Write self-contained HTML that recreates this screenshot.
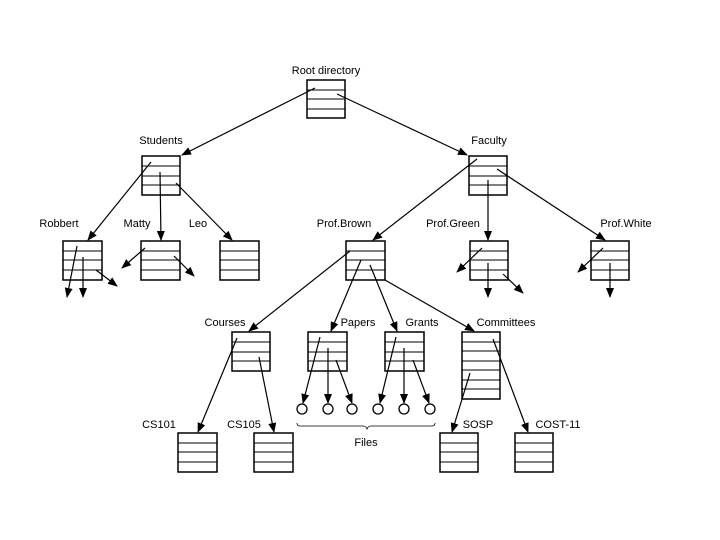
<!DOCTYPE html>
<html><head><style>body{margin:0;background:#fff}svg{display:block}</style></head><body>
<svg width="720" height="540" viewBox="0 0 720 540" xmlns="http://www.w3.org/2000/svg" font-family="Liberation Sans, sans-serif" font-size="11">
<defs><marker id="a" markerWidth="10" markerHeight="8" refX="9" refY="4" orient="auto" markerUnits="userSpaceOnUse"><path d="M0,0L10,4L0,8z" fill="#000"/></marker></defs>
<g fill="#fff" stroke="#000" stroke-width="1.5">
<rect x="307" y="80" width="38" height="38"/>
<rect x="142" y="156" width="38" height="39"/>
<rect x="469" y="156" width="38" height="39"/>
<rect x="63" y="241" width="39" height="39"/>
<rect x="141" y="241" width="39" height="39"/>
<rect x="220" y="241" width="39" height="39"/>
<rect x="346" y="241" width="39" height="39"/>
<rect x="470" y="241" width="38" height="39"/>
<rect x="591" y="241" width="38" height="39"/>
<rect x="232" y="332" width="38" height="39"/>
<rect x="308" y="332" width="39" height="39"/>
<rect x="385" y="332" width="39" height="39"/>
<rect x="462" y="332" width="38" height="67"/>
<rect x="178" y="433" width="39" height="39"/>
<rect x="254" y="433" width="39" height="39"/>
<rect x="440" y="433" width="38" height="39"/>
<rect x="515" y="433" width="38" height="39"/>
</g>
<g stroke="#000" stroke-width="1">
<path d="M307 90h38M307 99h38M307 109h38"/>
<path d="M142 166h38M142 176h38M142 185h38"/>
<path d="M469 166h38M469 176h38M469 185h38"/>
<path d="M63 251h39M63 260h39M63 270h39"/>
<path d="M141 251h39M141 260h39M141 270h39"/>
<path d="M220 251h39M220 260h39M220 270h39"/>
<path d="M346 251h39M346 260h39M346 270h39"/>
<path d="M470 251h38M470 260h38M470 270h38"/>
<path d="M591 251h38M591 260h38M591 270h38"/>
<path d="M232 342h38M232 352h38M232 361h38"/>
<path d="M308 342h39M308 352h39M308 361h39"/>
<path d="M385 342h39M385 352h39M385 361h39"/>
<path d="M462 342h38M462 351h38M462 361h38M462 370h38M462 380h38M462 389h38"/>
<path d="M178 443h39M178 452h39M178 462h39"/>
<path d="M254 443h39M254 452h39M254 462h39"/>
<path d="M440 443h38M440 452h38M440 462h38"/>
<path d="M515 443h38M515 452h38M515 462h38"/>
</g>
<g stroke="#000" stroke-width="1.2" fill="none" marker-end="url(#a)">
<line x1="315" y1="88" x2="182" y2="155"/>
<line x1="337" y1="94" x2="467" y2="155"/>
<line x1="151" y1="162" x2="88" y2="240"/>
<line x1="160" y1="172" x2="161" y2="240"/>
<line x1="176" y1="183" x2="232" y2="240"/>
<line x1="77" y1="246" x2="67" y2="297"/>
<line x1="83" y1="257" x2="83" y2="297"/>
<line x1="96" y1="270" x2="117" y2="286"/>
<line x1="145" y1="248" x2="122" y2="268"/>
<line x1="174" y1="256" x2="194" y2="276"/>
<line x1="477" y1="159" x2="373" y2="240"/>
<line x1="488" y1="180" x2="488" y2="240"/>
<line x1="497" y1="169" x2="605" y2="240"/>
<line x1="350" y1="251" x2="249" y2="331"/>
<line x1="361" y1="260" x2="331" y2="331"/>
<line x1="370" y1="265" x2="397" y2="331"/>
<line x1="385" y1="280" x2="474" y2="331"/>
<line x1="482" y1="248" x2="457" y2="272"/>
<line x1="488" y1="263" x2="488" y2="297"/>
<line x1="503" y1="274" x2="523" y2="293"/>
<line x1="603" y1="248" x2="578" y2="272"/>
<line x1="610" y1="263" x2="610" y2="297"/>
<line x1="237" y1="338" x2="198" y2="432"/>
<line x1="259" y1="357" x2="274" y2="432"/>
<line x1="320" y1="337" x2="303" y2="403"/>
<line x1="328" y1="348" x2="328" y2="403"/>
<line x1="336" y1="360" x2="352" y2="403"/>
<line x1="396" y1="337" x2="380" y2="403"/>
<line x1="404" y1="348" x2="404" y2="403"/>
<line x1="413" y1="360" x2="429" y2="403"/>
<line x1="470" y1="373" x2="452" y2="432"/>
<line x1="493" y1="339" x2="528" y2="432"/>
</g>
<g fill="#fff" stroke="#000" stroke-width="1.3">
<circle cx="302" cy="409" r="5"/><circle cx="328" cy="409" r="5"/><circle cx="352" cy="409" r="5"/>
<circle cx="378" cy="409" r="5"/><circle cx="404" cy="409" r="5"/><circle cx="430" cy="409" r="5"/>
</g>
<path d="M297 423q0 3 3 3h63q3 0 4 3q1-3 4-3h61q3 0 3-3" fill="none" stroke="#000" stroke-width="0.8"/>
<g fill="#000" text-anchor="middle">
<text x="326" y="74">Root directory</text>
<text x="161" y="144">Students</text>
<text x="489" y="144">Faculty</text>
<text x="59" y="227">Robbert</text>
<text x="137" y="227">Matty</text>
<text x="198" y="227">Leo</text>
<text x="344" y="227">Prof.Brown</text>
<text x="453" y="227">Prof.Green</text>
<text x="626" y="227">Prof.White</text>
<text x="225" y="326">Courses</text>
<text x="358" y="326">Papers</text>
<text x="422" y="326">Grants</text>
<text x="506" y="326">Committees</text>
<text x="159" y="428">CS101</text>
<text x="244" y="428">CS105</text>
<text x="478" y="428">SOSP</text>
<text x="558" y="428">COST-11</text>
<text x="366" y="446">Files</text>
</g>
</svg>
</body></html>
